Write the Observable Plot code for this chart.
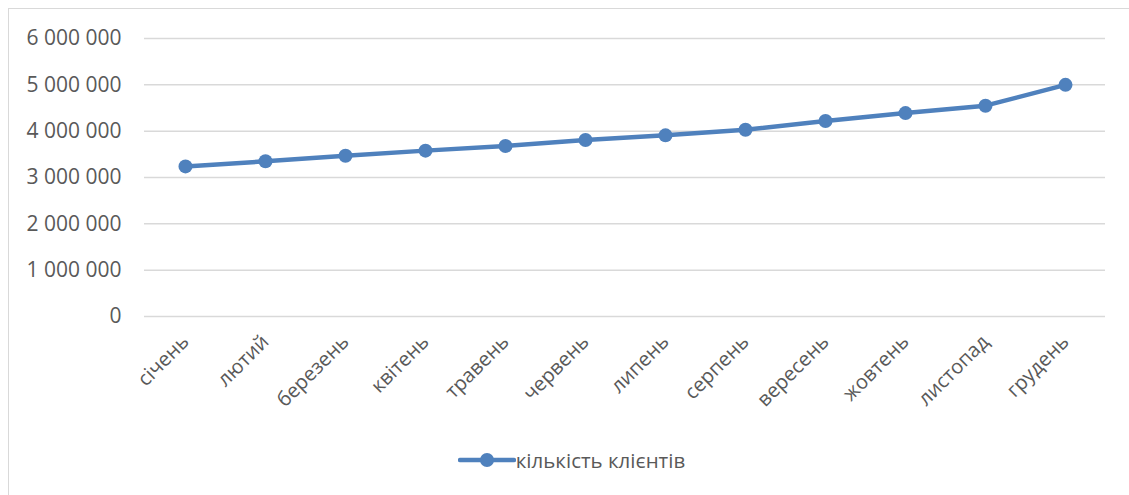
<!DOCTYPE html>
<html>
<head>
<meta charset="utf-8">
<script src="https://cdn.jsdelivr.net/npm/d3@7"></script>
<script src="https://cdn.jsdelivr.net/npm/@observablehq/plot@0.6"></script>
<style>
  html, body { margin: 0; padding: 0; background: #fff; }
  body { width: 1129px; height: 495px; position: relative; overflow: hidden; font-family: "Open Sans", sans-serif; }
  #frame { position: absolute; left: 8px; top: 8px; width: 1200px; height: 600px;
           border-left: 1.5px solid #d9d9d9; border-top: 1.5px solid #d9d9d9; }
  #chart { position: absolute; left: 0; top: 0; }
  #legend { position: absolute; left: 0; top: 446px; width: 1129px; display: flex; justify-content: center;
            align-items: center; color: #595959; font-size: 20.5px; padding-left: 14px; box-sizing: border-box; }
  #legend svg { margin-right: 0; }
</style>
</head>
<body>
<div id="frame"></div>
<div id="chart"></div>
<div id="legend"></div>
<script>
// Monthly client count
const months = ["січень", "лютий", "березень", "квітень", "травень", "червень",
                "липень", "серпень", "вересень", "жовтень", "листопад", "грудень"];
const clients = [3240000, 3350000, 3470000, 3580000, 3680000, 3810000,
                 3910000, 4030000, 4220000, 4390000, 4550000, 5000000];
const yTicks = [0, 1000000, 2000000, 3000000, 4000000, 5000000, 6000000];
const seriesName = "кількість клієнтів";

const data = months.map((m, i) => ({month: m, value: clients[i]}));
const blue = "#4f81bd";
const grey = "#595959";
const fmt = d => d3.format(",")(d).replace(/,/g, " ");

const chart = Plot.plot({
  width: 1129,
  height: 420,
  marginLeft: 144,
  marginRight: 24,
  marginTop: 38,
  marginBottom: 104,
  style: {fontFamily: "Open Sans, sans-serif", fontSize: "20px", color: grey, background: "transparent"},
  x: {type: "point", domain: months, padding: 0.5, label: null},
  y: {domain: [0, 6000000], label: null},
  marks: [
    Plot.gridY(yTicks, {stroke: "#d9d9d9", strokeOpacity: 1, strokeWidth: 1.5}),
    Plot.axisY(yTicks, {tickSize: 0, tickPadding: 23, tickFormat: fmt, fill: grey, fontSize: 21, label: null}),
    Plot.axisX({tickSize: 0, tickPadding: 22, tickRotate: -45, fill: grey, fontSize: 20, label: null}),
    Plot.line(data, {x: "month", y: "value", stroke: blue, strokeWidth: 4.5}),
    Plot.dot(data, {x: "month", y: "value", r: 7, fill: blue})
  ]
});
document.getElementById("chart").append(chart);

// Legend: line with marker, then series name
const legend = document.getElementById("legend");
const sw = d3.create("svg").attr("width", 58).attr("height", 20);
sw.append("line").attr("x1", 2).attr("x2", 56).attr("y1", 10).attr("y2", 10)
  .attr("stroke", blue).attr("stroke-width", 4.5).attr("stroke-linecap", "round");
sw.append("circle").attr("cx", 29).attr("cy", 10).attr("r", 7).attr("fill", blue);
legend.append(sw.node());
const label = document.createElement("span");
label.textContent = seriesName;
legend.append(label);
</script>
</body>
</html>
